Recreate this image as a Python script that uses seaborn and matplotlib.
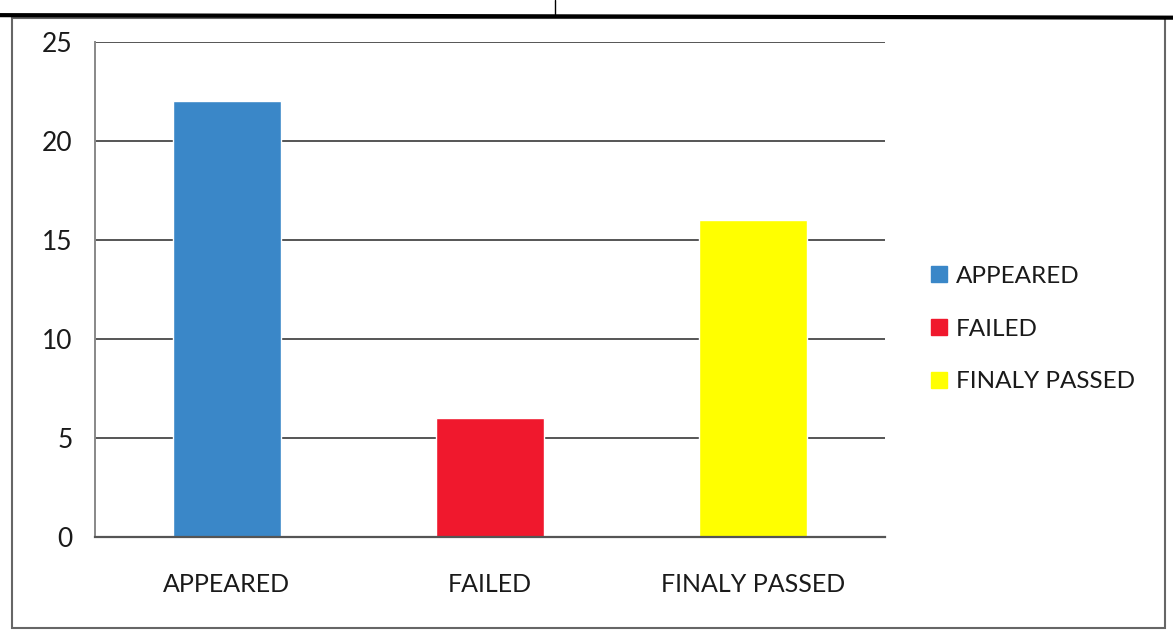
import seaborn as sns
import pandas as pd
import matplotlib.pyplot as plt
from matplotlib.lines import Line2D
from matplotlib.patches import Rectangle

# data
categories = ["APPEARED", "FAILED", "FINALY PASSED"]
counts = [22, 6, 16]
bar_colors = ["#3a87c8", "#f0182d", "#ffff00"]
y_ticks = [0, 5, 10, 15, 20, 25]

sns.set_style("white")
plt.rcParams["font.family"] = ["Lato", "DejaVu Sans"]

df = pd.DataFrame({"Category": categories, "Count": counts})

fig = plt.figure(figsize=(11.73, 6.31), dpi=100)
ax = fig.add_axes([0.081, 0.149, 0.6735, 0.7845])

sns.barplot(data=df, x="Category", y="Count", hue="Category",
            palette=bar_colors, width=0.41, saturation=1, legend=True, ax=ax)

ax.set_xlim(-0.5, 2.5)
ax.set_ylim(0, 25)
ax.set_yticks(y_ticks)
ax.yaxis.grid(True, color="#555555", linewidth=1.4)
ax.set_axisbelow(True)
ax.set_xlabel("")
ax.set_ylabel("")

for side in ["top", "right"]:
    ax.spines[side].set_visible(False)
ax.spines["left"].set_color("#888888")
ax.spines["left"].set_linewidth(1.4)
ax.spines["bottom"].set_color("#555555")
ax.spines["bottom"].set_linewidth(1.6)

ax.tick_params(axis="y", length=6, color="#555555", width=1.2,
               labelsize=19, pad=10, labelcolor="#1a1a1a")
ax.tick_params(axis="x", which="major", length=0, labelsize=18,
               pad=26, labelcolor="#1a1a1a")
ax.set_xticks([-0.5, 0.5, 1.5, 2.5], minor=True)
ax.tick_params(axis="x", which="minor", length=7, color="#666666", width=1.4)

ax.legend(handles=[Line2D([], [], marker="s", linestyle="", markersize=12,
                          color=c) for c in bar_colors],
          labels=categories, loc="center left", bbox_to_anchor=(1.025, 0.42),
          frameon=False, fontsize=17.5, labelspacing=1.3, handletextpad=0.2,
          handlelength=1.0, labelcolor="#1a1a1a")

# scanned page frame
fig.patches.append(Rectangle((0.0102, 0.0048), 0.983, 0.967, transform=fig.transFigure,
                             fill=False, edgecolor="#666666", linewidth=1.5))
fig.add_artist(Line2D([0, 1], [0.976, 0.972], transform=fig.transFigure,
                      color="black", linewidth=3))
fig.add_artist(Line2D([0.473, 0.473], [0.976, 1], transform=fig.transFigure,
                      color="black", linewidth=1))

fig.savefig("out.png", dpi=100)
